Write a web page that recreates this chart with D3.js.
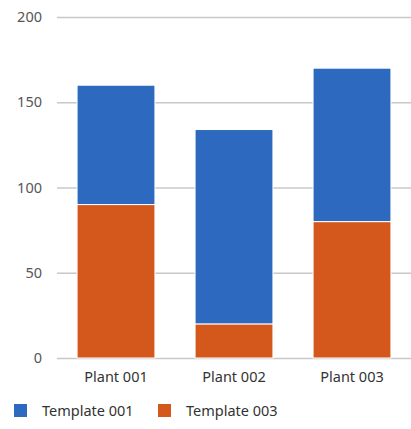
<!DOCTYPE html>
<meta charset="utf-8">
<style>
body { margin: 0; padding: 0; background: #fff; }
text { font-family: 'Noto Sans', sans-serif; }
</style>
<svg width="411" height="429"></svg>
<script src="https://d3js.org/d3.v7.min.js"></script>
<script>
var plants = ["Plant 001", "Plant 002", "Plant 003"];
var series = ["Template 003", "Template 001"]; // stacked bottom to top
var template003 = [90, 20, 80];
var template001 = [70, 114, 90];
var yTicks = [0, 50, 100, 150, 200];
var colors = {"Template 001": "#2d6abf", "Template 003": "#d4581b"};

var svg = d3.select("svg");
var margin = {top: 17, right: 0, bottom: 71, left: 57};
var width = 411 - margin.left - margin.right,
    height = 429 - margin.top - margin.bottom;

var g = svg.append("g").attr("transform", "translate(" + margin.left + "," + margin.top + ")");

var rows = plants.map(function(p, i) {
    return {plant: p, "Template 003": template003[i], "Template 001": template001[i]};
});

var x = d3.scaleBand().domain(plants).range([0, width]).paddingInner(0.34).paddingOuter(0.17);
var y = d3.scaleLinear().domain([0, 200]).range([height, 0]);

// gridlines + y labels
var yAxis = g.append("g")
    .call(d3.axisLeft(y).tickValues(yTicks).tickSize(-width).tickPadding(15));
yAxis.select(".domain").remove();
yAxis.selectAll("line").attr("stroke", "#c8c8c8").attr("stroke-width", 1.3);
yAxis.selectAll("text").attr("fill", "#555").style("font-size", "14.5px");

var stack = d3.stack().keys(series)(rows);

g.selectAll(".layer")
    .data(stack)
  .enter().append("g")
    .attr("fill", function(d) { return colors[d.key]; })
  .selectAll("rect")
    .data(function(d) { return d; })
  .enter().append("rect")
    .attr("x", function(d) { return x(d.data.plant); })
    .attr("y", function(d) { return y(d[1]); })
    .attr("height", function(d) { return y(d[0]) - y(d[1]); })
    .attr("width", x.bandwidth())
    .attr("stroke", "#fff")
    .attr("stroke-width", 1);

// x labels
var xAxis = g.append("g")
    .attr("transform", "translate(0," + height + ")")
    .call(d3.axisBottom(x).tickSize(0).tickPadding(14));
xAxis.select(".domain").remove();
xAxis.selectAll("text").attr("fill", "#333").style("font-size", "14.5px");

// legend
var legendKeys = ["Template 001", "Template 003"];
var legend = svg.append("g").attr("transform", "translate(14,404)");
var item = legend.selectAll("g")
    .data(legendKeys)
  .enter().append("g")
    .attr("transform", function(d, i) { return "translate(" + (i * 144) + ",0)"; });
item.append("rect")
    .attr("width", 13).attr("height", 13)
    .attr("fill", function(d) { return colors[d]; });
item.append("text")
    .attr("x", 28).attr("y", 12)
    .attr("fill", "#333")
    .style("font-size", "14.5px")
    .text(function(d) { return d; });
</script>
